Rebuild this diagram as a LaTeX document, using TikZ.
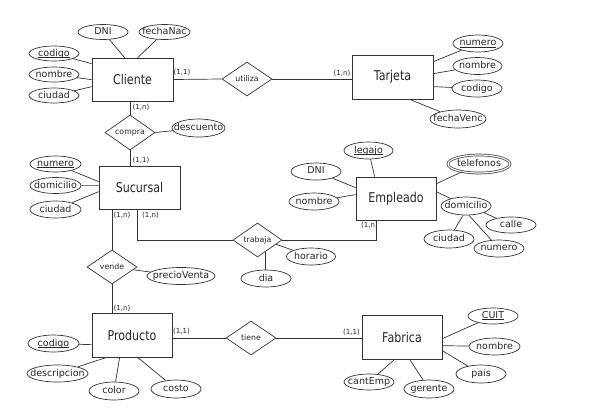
\documentclass[tikz,border=0pt]{standalone}
\usepackage{fontspec}
\setmainfont{DejaVu Sans}
\newfontfamily\entfont[FakeStretch=0.82]{DejaVu Sans}
\usetikzlibrary{shapes.geometric,calc}
\newcommand\attrtxt[1]{\makebox[0pt]{\vphantom{Ag}#1}}
\newcommand\keyul[1]{\setbox0\hbox{#1}\rlap{\rule[-1.4pt]{\wd0}{0.55pt}}\box0}
\begin{document}
\begin{tikzpicture}[x=1pt,y=-1pt, color=black!80, line width=0.7pt,
  ent/.style={draw, rectangle, minimum width=81, minimum height=43, inner sep=0, text=black!85, font=\entfont\fontsize{13.5}{14}\selectfont},
  rel/.style={draw, diamond, minimum width=50, minimum height=34, inner sep=0, text=black!85, font=\fontsize{7.8}{8}\selectfont},
  attr/.style={draw, ellipse, inner sep=0, minimum width=50, minimum height=17, text=black!85, font=\fontsize{9.5}{10}\selectfont},
  card/.style={inner sep=0, text=black!85, font=\fontsize{7}{7}\selectfont}]
\useasboundingbox (0,0) rectangle (589,416);
% entities
\node[ent] (cli) at (132.5,79.5) {Cliente};
\node[ent, minimum height=44] (tar) at (392.5,77) {Tarjeta};
\node[ent] (suc) at (139.5,187.5) {Sucursal};
\node[ent, minimum width=80] (emp) at (396,198.5) {Empleado};
\node[ent, minimum width=80, minimum height=44] (prod) at (132,335) {Producto};
\node[ent, minimum width=80, minimum height=44] (fab) at (402,337) {Fabrica};
% relationships
\node[rel] (uti) at (247,79) {\attrtxt{utiliza}};
\node[rel, minimum height=35] (com) at (130,132.5) {\attrtxt{compra}};
\node[rel] (ven) at (112,267) {\attrtxt{vende}};
\node[rel, minimum width=49] (tra) at (257.5,240) {\attrtxt{trabaja}};
\node[rel] (tie) at (251,338) {\attrtxt{tiene}};
% Cliente attributes
\node[attr, minimum height=15] (cdni) at (103,32) {\attrtxt{DNI}};
\node[attr, minimum height=15, minimum width=51] (cfn) at (164.5,32) {\attrtxt{fechaNac}};
\node[attr, minimum height=15] (ccod) at (54,53.5) {\attrtxt{\keyul{codigo}}};
\node[attr, minimum height=15] (cnom) at (54,74.5) {\attrtxt{nombre}};
\node[attr, minimum height=15] (cciu) at (54,95.5) {\attrtxt{ciudad}};
\node[attr, minimum width=53, minimum height=18] (desc) at (198.5,128) {\attrtxt{descuento}};
% Tarjeta attributes
\node[attr] (tnum) at (478,43.5) {\attrtxt{\keyul{numero}}};
\node[attr, minimum width=49] (tnom) at (477.5,66) {\attrtxt{nombre}};
\node[attr] (tcod) at (477,88.5) {\attrtxt{codigo}};
\node[attr, minimum width=56, minimum height=18] (tfv) at (458,119) {\attrtxt{fechaVenc}};
% Sucursal attributes
\node[attr, minimum width=51, minimum height=16] (snum) at (55.5,164) {\attrtxt{\keyul{numero}}};
\node[attr, minimum width=51, minimum height=16] (sdom) at (55.5,185.5) {\attrtxt{domicilio}};
\node[attr, minimum width=51] (sciu) at (55.5,209.5) {\attrtxt{ciudad}};
\node[attr, minimum width=68] (pv) at (181,276) {\attrtxt{precioVenta}};
% trabaja attributes
\node[attr] (dia) at (266,278.5) {\attrtxt{dia}};
\node[attr, minimum width=49] (hor) at (311,256.5) {\attrtxt{horario}};
% Empleado attributes
\node[attr, minimum width=49] (eleg) at (368.5,150.5) {\attrtxt{\keyul{legajo}}};
\node[attr] (edni) at (316,171.5) {\attrtxt{DNI}};
\node[attr] (enom) at (314,201.5) {\attrtxt{nombre}};
\node[attr, minimum width=62, minimum height=18, double, double distance=1.2pt] (etel) at (479,164) {\attrtxt{telefonos}};
\node[attr, minimum height=18] (edom) at (466,206) {\attrtxt{domicilio}};
\node[attr, minimum height=16] (ecal) at (511,225) {\attrtxt{calle}};
\node[attr, minimum height=18] (eciu) at (449,239) {\attrtxt{ciudad}};
\node[attr] (enum) at (499,248.5) {\attrtxt{numero}};
% Producto attributes
\node[attr, minimum width=51] (pcod) at (53.5,343.5) {\attrtxt{\keyul{codigo}}};
\node[attr, minimum width=61] (pdesc) at (57.5,373.5) {\attrtxt{descripcion}};
\node[attr, minimum height=18] (pcol) at (114,391) {\attrtxt{color}};
\node[attr, minimum height=18] (pcos) at (176,389) {\attrtxt{costo}};
% Fabrica attributes
\node[attr, minimum height=16] (fcuit) at (493,316) {\attrtxt{\keyul{CUIT}}};
\node[attr, minimum width=51] (fnom) at (494.5,346.5) {\attrtxt{nombre}};
\node[attr, minimum height=18] (fpais) at (481,374) {\attrtxt{pais}};
\node[attr, minimum height=16] (fcant) at (369,382) {\attrtxt{cantEmp}};
\node[attr, minimum height=18] (fger) at (429,389) {\attrtxt{gerente}};
% cardinalities
\node[card] (k1) at (182,72.5) {(1,1)};
\node[card] (k2) at (342,73) {(1,n)};
\node[card] (k3) at (141,107) {(1,n)};
\node[card] (k4) at (141,160) {(1,1)};
\node[card] (k5) at (122,215.5) {(1,n)};
\node[card] (k6) at (150.5,215.5) {(1,n)};
\node[card] (k7) at (369.5,225.5) {(1,n)};
\node[card] (k8) at (122,308.5) {(1,n)};
\node[card] (k9) at (181.5,331.5) {(1,1)};
\node[card] (k10) at (351.5,332) {(1,1)};
% relationship connectors
\draw (cli.east) -- (uti.west);
\draw (uti.east) -- (uti.east -| tar.west);
\draw (cli.south -| com.north) -- (com.north);
\draw (com.south) -- (com.south |- suc.north);
\draw (com.east) -- (desc);
\draw (ven.north |- suc.south) -- (ven.north);
\draw (ven.south) -- (ven.south |- prod.north);
\draw (ven) -- (pv);
\coordinate (sucT) at ($(suc.south west)+(39,0)$);
\draw (sucT) -- (sucT |- tra.west) -- (tra.west);
\coordinate (empT) at ($(emp.south west)+(21,0)$);
\draw (tra.east) -- (tra.east -| empT) -- (empT);
\coordinate (tradia) at ($(tra.south)!0.3!(tra.east)$);
\draw (tradia) -- (tradia |- dia.north);
\coordinate (trahor) at ($(tra.east)!0.25!(tra.south)$);
\draw (trahor) -- (hor);
\draw (prod.east |- tie) -- (tie.west);
\draw (tie.east) -- (tie.east -| fab.west);
% Cliente attribute connectors
\draw ($(cli.north west)+(33,0)$) -- (cdni);
\draw ($(cli.north west)+(46,0)$) -- (cfn);
\draw ($(cli.north west)+(0,6)$) -- (ccod);
\draw ($(cli.north west)+(0,22)$) -- (cnom);
\draw ($(cli.north west)+(0,29)$) -- (cciu);
% Tarjeta
\draw ($(tar.north east)+(0,7)$) -- (tnum);
\draw ($(tar.north east)+(0,19)$) -- (tnom);
\draw ($(tar.north east)+(0,32)$) -- (tcod);
\draw ($(tar.south west)+(58,0)$) -- (tfv);
% Sucursal
\draw ($(suc.north west)+(0,16)$) -- (snum);
\draw ($(suc.north west)+(0,20)$) -- (sdom);
\draw ($(suc.north west)+(0,26)$) -- (sciu);
% Empleado
\draw ($(emp.north west)+(19,0)$) -- (eleg);
\draw ($(emp.north west)+(0,11)$) -- (edni);
\draw ($(emp.north west)+(0,18)$) -- (enom);
\draw ($(emp.north east)+(0,7)$) -- (etel);
\draw ($(emp.north east)+(0,15)$) -- (edom);
\draw ([xshift=-3]edom.south) -- (eciu);
\draw ([xshift=3]edom.south) -- (enum);
\draw (edom.south east) -- (ecal);
% Producto
\draw ($(prod.north west)+(0,32)$) -- (pcod);
\draw ($(prod.south west)+(15,0)$) -- (pdesc);
\draw ($(prod.south west)+(28,0)$) -- (pcol);
\draw ($(prod.south west)+(46,0)$) -- (pcos);
% Fabrica
\draw ($(fab.north east)+(0,24)$) -- (fcuit);
\draw ($(fab.north east)+(0,31)$) -- (fnom);
\draw ($(fab.north east)+(0,36)$) -- (fpais);
\draw ($(fab.south west)+(33,0)$) -- (fcant);
\draw ($(fab.south west)+(48,0)$) -- (fger);
\end{tikzpicture}
\end{document}
